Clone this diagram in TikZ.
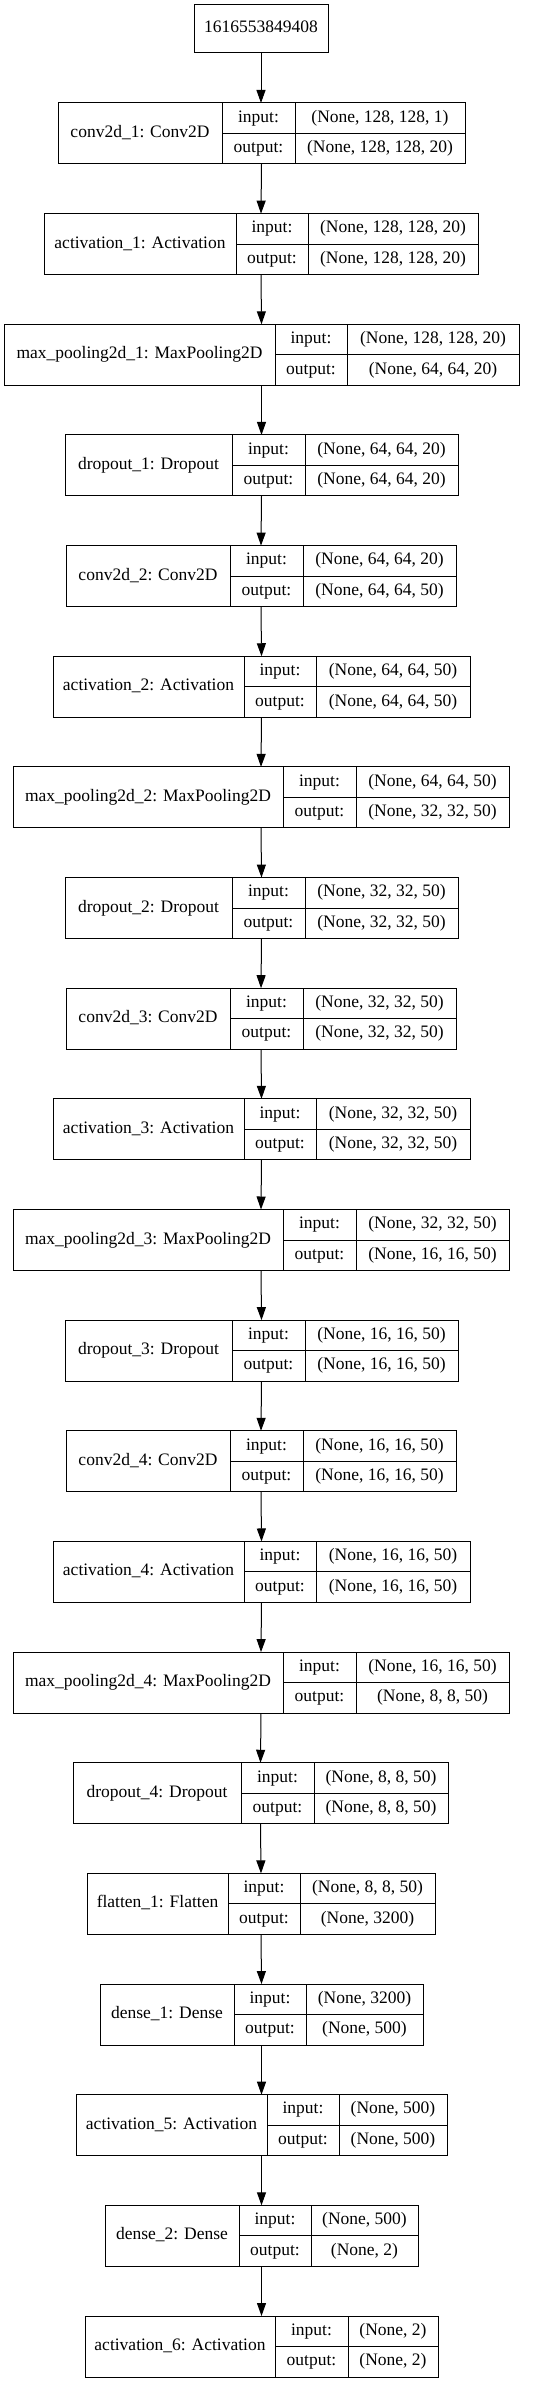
\documentclass[tikz,border=0pt]{standalone}
\usepackage{fontspec}
\setmainfont{Liberation Serif}
\usetikzlibrary{arrows.meta, positioning}

\begin{document}
\begin{tikzpicture}[
  x=1pt, y=-1pt,
  cell/.style={draw, line width=1pt, inner sep=0pt, outer sep=0pt,
    font=\fontsize{17.5}{20}\selectfont, text height=12pt, text depth=4pt},
  half/.style={cell, minimum height=30.5pt},
  full/.style={cell, minimum height=61pt},
  frame/.style={inner sep=0pt, outer sep=0pt, minimum height=61pt},
  flow/.style={line width=1pt, -{Triangle[length=13pt, width=9pt]}}
  ]
  \useasboundingbox (0,0) rectangle (540,2384);

  \node[cell, minimum width=134pt, minimum height=48pt] (top) at (261,29) {1616553849408};

  % one row per layer: name / input shape / output shape / left / split 1 / split 2 / right
  \foreach \lname/\shin/\shout/\xl/\xa/\xb/\xr [count=\i] in {
    {conv2d\_1: Conv2D}/{(None, 128, 128, 1)}/{(None, 128, 128, 20)}/58/222/295/465,
    {activation\_1: Activation}/{(None, 128, 128, 20)}/{(None, 128, 128, 20)}/44/236/308/478,
    {max\_pooling2d\_1: MaxPooling2D}/{(None, 128, 128, 20)}/{(None, 64, 64, 20)}/4/275/347/519,
    {dropout\_1: Dropout}/{(None, 64, 64, 20)}/{(None, 64, 64, 20)}/65/232/305/458,
    {conv2d\_2: Conv2D}/{(None, 64, 64, 20)}/{(None, 64, 64, 50)}/66/230/303/456,
    {activation\_2: Activation}/{(None, 64, 64, 50)}/{(None, 64, 64, 50)}/53/244/316/470,
    {max\_pooling2d\_2: MaxPooling2D}/{(None, 64, 64, 50)}/{(None, 32, 32, 50)}/13/283/356/509,
    {dropout\_2: Dropout}/{(None, 32, 32, 50)}/{(None, 32, 32, 50)}/65/232/305/458,
    {conv2d\_3: Conv2D}/{(None, 32, 32, 50)}/{(None, 32, 32, 50)}/66/230/303/456,
    {activation\_3: Activation}/{(None, 32, 32, 50)}/{(None, 32, 32, 50)}/53/244/316/470,
    {max\_pooling2d\_3: MaxPooling2D}/{(None, 32, 32, 50)}/{(None, 16, 16, 50)}/13/283/356/509,
    {dropout\_3: Dropout}/{(None, 16, 16, 50)}/{(None, 16, 16, 50)}/65/232/305/458,
    {conv2d\_4: Conv2D}/{(None, 16, 16, 50)}/{(None, 16, 16, 50)}/66/230/303/456,
    {activation\_4: Activation}/{(None, 16, 16, 50)}/{(None, 16, 16, 50)}/53/244/316/470,
    {max\_pooling2d\_4: MaxPooling2D}/{(None, 16, 16, 50)}/{(None, 8, 8, 50)}/13/283/356/509,
    {dropout\_4: Dropout}/{(None, 8, 8, 50)}/{(None, 8, 8, 50)}/73/241/314/448,
    {flatten\_1: Flatten}/{(None, 8, 8, 50)}/{(None, 3200)}/87/228/300/435,
    {dense\_1: Dense}/{(None, 3200)}/{(None, 500)}/100/234/306/423,
    {activation\_5: Activation}/{(None, 500)}/{(None, 500)}/76/267/339/447,
    {dense\_2: Dense}/{(None, 500)}/{(None, 2)}/105/239/311/418,
    {activation\_6: Activation}/{(None, 2)}/{(None, 2)}/85/275/348/438}
  {
    \pgfmathsetmacro\yc{133.5+110.65*(\i-1)}
    \node[frame, minimum width={(\xr-\xl)*1pt}] (B\i) at ({(\xl+\xr)/2},\yc) {};
    \node[full, anchor=west, minimum width={(\xa-\xl)*1pt}] (N\i) at (\xl,\yc) {\lname};
    \node[half, anchor=south west, minimum width={(\xb-\xa)*1pt}] (I\i) at (N\i.east) {input:};
    \node[half, anchor=north west, minimum width={(\xb-\xa)*1pt}] (O\i) at (N\i.east) {output:};
    \node[half, anchor=south west, minimum width={(\xr-\xb)*1pt}] (IS\i) at (I\i.south east) {\shin};
    \node[half, anchor=north west, minimum width={(\xr-\xb)*1pt}] (OS\i) at (O\i.north east) {\shout};
  }

  \draw[flow] (top.south) -- (top.south |- B1.north);
  \foreach \i [evaluate=\i as \j using int(\i+1)] in {1,...,20}
    \draw[flow] (B\i.south) -- (B\j.north);
\end{tikzpicture}
\end{document}
